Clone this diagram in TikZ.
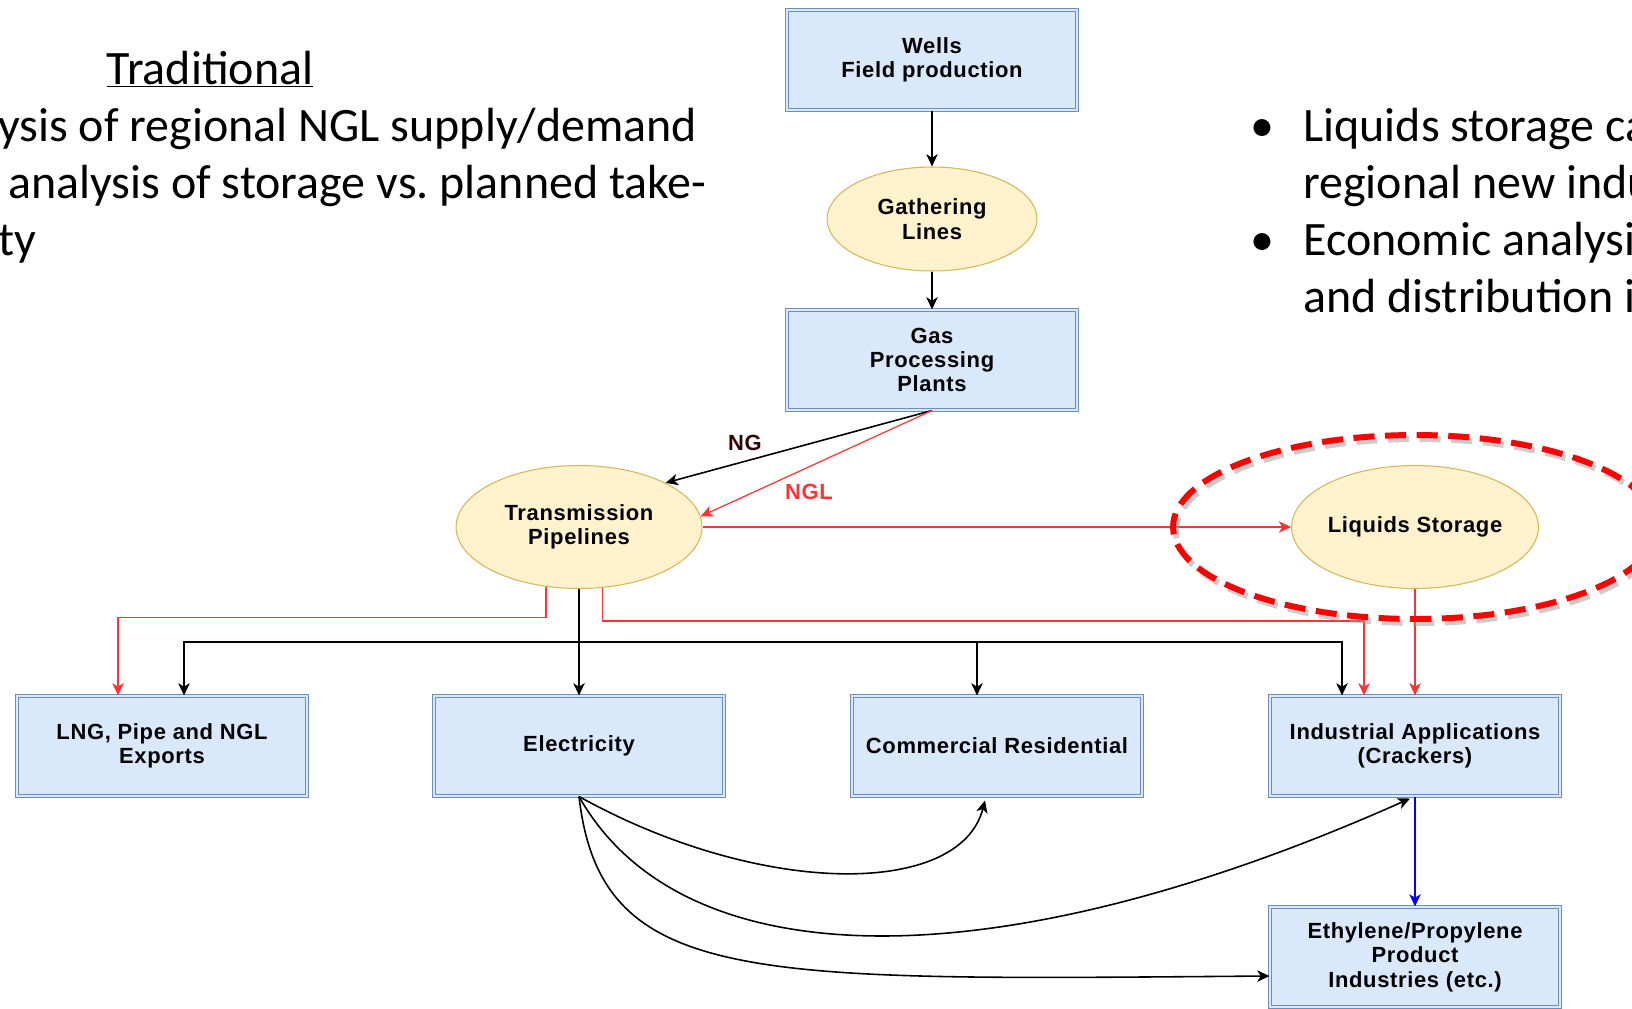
\documentclass[tikz,border=0pt]{standalone}
\usepackage{fontspec}
\setmainfont{Carlito}
\newfontfamily\diagfont[LetterSpace=3]{Liberation Sans}
\usetikzlibrary{shapes.geometric,arrows.meta,calc}

\definecolor{boxfill}{HTML}{DAE8FC}
\definecolor{boxline}{HTML}{6C8EBF}
\definecolor{pipefill}{HTML}{FFF2CC}
\definecolor{pipeline}{HTML}{D6B656}
\definecolor{nglred}{HTML}{FF3333}
\definecolor{ngbrown}{HTML}{330000}

\begin{document}
\begin{tikzpicture}[x=0.02cm,y=-0.02cm]
        \tikzstyle{every node}=[font=\diagfont\bfseries\fontsize{12.5}{13.9}\selectfont]
        \tikzstyle{facility}=[draw=boxline, double=boxfill, double distance=1.2pt, line width=0.6pt, fill=boxfill, minimum width=5.8cm, minimum height=2.0cm, align=center]
        \tikzstyle{network}=[ellipse, draw=pipeline, line width=0.6pt, fill=pipefill, align=center, inner sep=1pt]
        \tikzstyle{flow}=[-{Stealth[length=7pt,width=6.5pt,inset=2pt]}, line width=0.9pt]
        \tikzstyle{ngl}=[flow, nglred, line width=0.7pt]
        \tikzstyle{slide}=[font=\normalfont\fontsize{27.3}{32.3}\selectfont, anchor=base west, inner sep=0pt]
        \useasboundingbox (0,0) rectangle (1632,1008);
        \clip (0,0) rectangle (1632,1008);

        % slide text
        \node[slide, anchor=base] (heading) at (210,84) {\underline{Traditional}};
        \node[slide] (leftA) at (-2,141) {ysis of regional NGL supply/demand};
        \node[slide] (leftB) at (8,198) {analysis of storage vs.\ planned take-};
        \node[slide] (leftC) at (-2,255) {ty};
        \node[slide, anchor=base] (bulletA) at (1262,141) {\textbullet};
        \node[slide] (rightA) at (1303,141) {Liquids storage ca};
        \node[slide] (rightB) at (1303,198) {regional new indu};
        \node[slide, anchor=base] (bulletB) at (1262,255) {\textbullet};
        \node[slide] (rightC) at (1303,255) {Economic analysi};
        \node[slide] (rightD) at (1303,312) {and distribution i};

        % supply chain
        \node[facility] (wells) at (932,60) {Wells\\Field production};
        \node[network, minimum width=4.2cm, minimum height=2.08cm] (gathering) at (932,219) {Gathering\\Lines};
        \node[facility] (gasplant) at (932,360) {Gas\\Processing\\Plants};
        \node[network, minimum width=4.92cm, minimum height=2.46cm] (transmission) at (579,527) {Transmission\\Pipelines};
        \node[network, minimum width=4.92cm, minimum height=2.46cm, inner sep=0pt] (storage) at (1415,527) {Liquids Storage};

        % end uses
        \node[facility] (exports) at (162,746) {LNG, Pipe and NGL\\Exports};
        \node[facility] (electricity) at (579,746) {Electricity};
        \node[facility] (commercial) at (997,746) {Commercial Residential};
        \node[facility] (industrial) at (1415,746) {Industrial Applications\\(Crackers)};
        \node[facility] (ethylene) at (1415,957) {Ethylene/Propylene\\Product\\Industries (etc.)};

        \draw[flow] (wells) -- (gathering);
        \draw[flow] (gathering) -- (gasplant);
        \draw[flow] (gasplant.south) -- (transmission.27);
        \draw[ngl] (gasplant.south) -- (transmission.5);
        \node[text=ngbrown] (nglabel) at (745,443) {NG};
        \node[text=nglred] (ngllabel) at (809,492) {NGL};
        \draw[ngl] (transmission.east) -- (storage.west);

        \draw[ngl] (transmission.241.5) -- ++(0,31) -| ($(exports.north)+(-44,0)$);
        \draw[ngl] (transmission.291.7) -- ++(0,33) -| ($(industrial.north)+(-51,0)$);
        \draw[ngl] (storage.south) -- (industrial.north);
        \draw[flow] (transmission.south) -- (electricity.north);
        \draw[flow] (transmission.south) -- ++(0,53) -| ($(exports.north)+(22,0)$);
        \draw[flow] (transmission.south) -- ++(0,53) -| ($(commercial.north)+(-20,0)$);
        \draw[flow] (transmission.south) -- ++(0,53) -| ($(industrial.north)+(-73,0)$);
        \draw[flow, blue, line width=0.7pt] (industrial.south) -- (ethylene.north);

        \draw[flow] (electricity.south) .. controls +(182,101) and +(-25,97) .. ($(commercial.south)+(-12,4)$);
        \draw[flow] (electricity.south) .. controls +(102,181) and +(-420,187) .. ($(industrial.south)+(-5,2)$);
        \draw[flow] (electricity.south) .. controls +(22,191) and +(-517,4) .. ($(ethylene.west)+(0,19)$);

        % highlight
        \draw[black!40, opacity=0.5, line width=3.4pt, dash pattern=on 12pt off 6pt] (1418,531) ellipse [x radius=4.84cm, y radius=1.84cm];
        \draw[red, line width=3.4pt, dash pattern=on 12pt off 6pt] (1415,527) ellipse [x radius=4.84cm, y radius=1.84cm];
    \end{tikzpicture}
\end{document}
